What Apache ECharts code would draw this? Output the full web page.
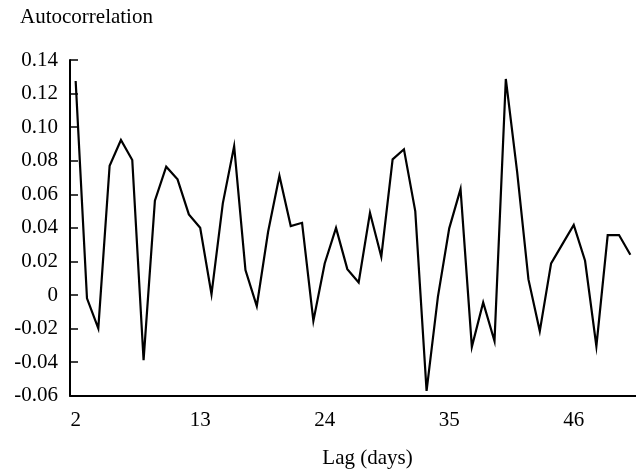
<!DOCTYPE html>
<html>
<head>
<meta charset="utf-8">
<title>Autocorrelation</title>
<script src="https://cdn.jsdelivr.net/npm/echarts@6/dist/echarts.min.js"></script>
<style>
    html, body { margin: 0; padding: 0; background: #fff; }
    .main_line { width: 636px; height: 474px; }
</style>
</head>
<body>
<div class="main_line"></div>
<script>
// 数据
var lags = ['2', '3', '4', '5', '6', '7', '8', '9', '10', '11',
    '12', '13', '14', '15', '16', '17', '18', '19', '20', '21',
    '22', '23', '24', '25', '26', '27', '28', '29', '30', '31',
    '32', '33', '34', '35', '36', '37', '38', '39', '40', '41',
    '42', '43', '44', '45', '46', '47', '48', '49', '50', '51'];

var acf = [0.1275, -0.002, -0.0199, 0.077, 0.0923, 0.0804, -0.0388, 0.0562, 0.0764, 0.0689,
    0.048, 0.040, 0.0005, 0.0546, 0.0887, 0.0148, -0.0066, 0.0377, 0.071, 0.0411,
    0.043, -0.0154, 0.0188, 0.040, 0.0154, 0.0075, 0.049, 0.0228, 0.0808, 0.0868,
    0.050, -0.0571, -0.0011, 0.0397, 0.0631, -0.0309, -0.0044, -0.0275, 0.1287, 0.0734,
    0.0093, -0.0215, 0.0188, 0.0303, 0.0417, 0.0204, -0.0305, 0.0357, 0.0357, 0.024];

// y轴刻度
var yMin = -0.06;
var yMax = 0.14;
var yStep = 0.02;
// x轴每11个显示一个标签
var xLabelEvery = 11;

var font = 'Liberation Serif';

var myChart = echarts.init(document.querySelector('.main_line'));

var option = {
    animation: false,
    backgroundColor: '#fff',
    grid: {
        left: 70,
        top: 60,
        width: 575.75,
        height: 335.7
    },
    graphic: [
        {
            type: 'text',
            style: {
                text: 'Autocorrelation',
                x: 20,
                y: 17,
                verticalAlign: 'middle',
                font: '21px "Liberation Serif"',
                fill: '#000'
            }
        },
        {
            type: 'text',
            style: {
                text: 'Lag (days)',
                x: 367.5,
                y: 458.7,
                align: 'center',
                verticalAlign: 'middle',
                font: '21px "Liberation Serif"',
                fill: '#000'
            }
        }
    ],
    xAxis: {
        type: 'category',
        data: lags,
        boundaryGap: true,
        axisLine: { onZero: false, lineStyle: { color: '#000', width: 2 } },
        axisTick: {
            inside: true,
            length: 8,
            interval: xLabelEvery - 1,
            lineStyle: { color: '#000', width: 1 }
        },
        axisLabel: {
            interval: xLabelEvery - 1,
            margin: 14,
            color: '#000',
            fontFamily: font,
            fontSize: 21
        },
        splitLine: { show: false }
    },
    yAxis: {
        type: 'value',
        min: yMin,
        max: yMax,
        interval: yStep,
        axisLine: { show: true, lineStyle: { color: '#000', width: 2 } },
        axisTick: {
            show: true,
            inside: true,
            length: 8,
            lineStyle: { color: '#000', width: 1.5 }
        },
        axisLabel: {
            margin: 12,
            color: '#000',
            fontFamily: font,
            fontSize: 21,
            formatter: function (v) {
                if (Math.abs(v) < 1e-9) return '0';
                return v.toFixed(2);
            }
        },
        splitLine: { show: false }
    },
    series: [{
        name: 'Autocorrelation',
        type: 'line',
        data: acf,
        symbol: 'none',
        smooth: false,
        lineStyle: { color: '#000', width: 2.2, join: 'miter' }
    }]
};

myChart.setOption(option);
</script>
</body>
</html>
